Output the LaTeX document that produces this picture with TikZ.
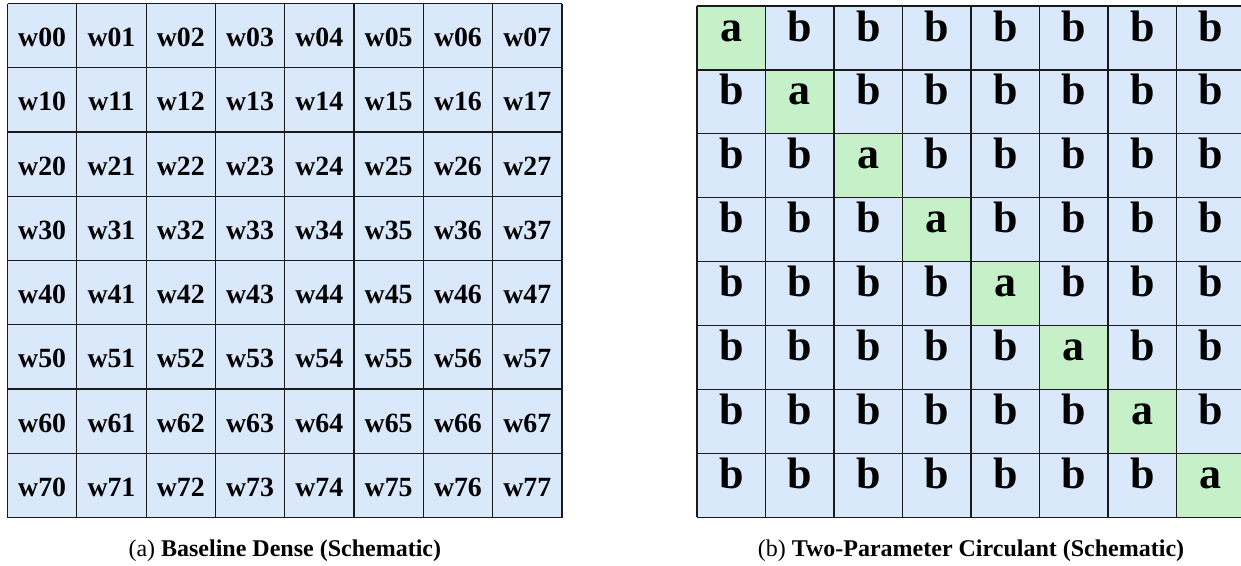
\documentclass[tikz,border=0pt]{standalone}
\usepackage{fontspec}
\setmainfont{Liberation Serif}
\definecolor{cellblue}{HTML}{DAE8FC}
\definecolor{cellgreen}{HTML}{C5F0C8}
\definecolor{gridline}{HTML}{1A1A1A}
\begin{document}
\begin{tikzpicture}[x=1pt,y=-1pt,
  bluecell/.style={fill=cellblue},
  greencell/.style={fill=cellgreen},
  gridlines/.style={draw=gridline,line width=1.2pt},
  wtext/.style={anchor=base,inner sep=0pt,font=\fontsize{27.8}{32}\selectfont\bfseries},
  abtext/.style={anchor=base,inner sep=0pt,font=\fontsize{44}{50}\selectfont\bfseries},
  captext/.style={anchor=base,inner sep=0pt,font=\fontsize{24}{28}\selectfont}]
\useasboundingbox (0,0) rectangle (1241,565);
\clip (0,0) rectangle (1241,565);
% left grid
\foreach \r in {0,...,7}{
  \foreach \c in {0,...,7}{
    \path[bluecell] (7.5+\c*69.3,3.5+\r*64.25) rectangle ++(69.3,64.25);
    \node[wtext] (w\r\c) at (7.5+\c*69.3+34.65,3.5+\r*64.25+43) {w\r\c};
  }
}
\foreach \i in {0,...,8}{
  \draw[gridlines] (7.5+\i*69.3,3.5) -- (7.5+\i*69.3,517.5);
  \draw[gridlines] (7.5,3.5+\i*64.25) -- (561.9,3.5+\i*64.25);
}
% right grid
\foreach \r in {0,...,7}{
  \foreach \c in {0,...,7}{
    \ifnum\r=\c
      \path[greencell] (697+\c*68.5,6+\r*63.9) rectangle ++(68.5,63.9);
      \node[abtext] (m\r\c) at (697+\c*68.5+34.25,6+\r*63.9+35) {a};
    \else
      \path[bluecell] (697+\c*68.5,6+\r*63.9) rectangle ++(68.5,63.9);
      \node[abtext] (m\r\c) at (697+\c*68.5+34.25,6+\r*63.9+35) {b};
    \fi
  }
}
\foreach \i in {0,...,8}{
  \draw[gridlines] (697+\i*68.5,6) -- (697+\i*68.5,517.2);
  \draw[gridlines] (697,6+\i*63.9) -- (1245,6+\i*63.9);
}
\node[captext] (capa) at (284.8,556) {(a) \textbf{Baseline Dense (Schematic)}};
\node[captext] (capb) at (971,556) {(b) \textbf{Two-Parameter Circulant (Schematic)}};
\end{tikzpicture}
\end{document}
